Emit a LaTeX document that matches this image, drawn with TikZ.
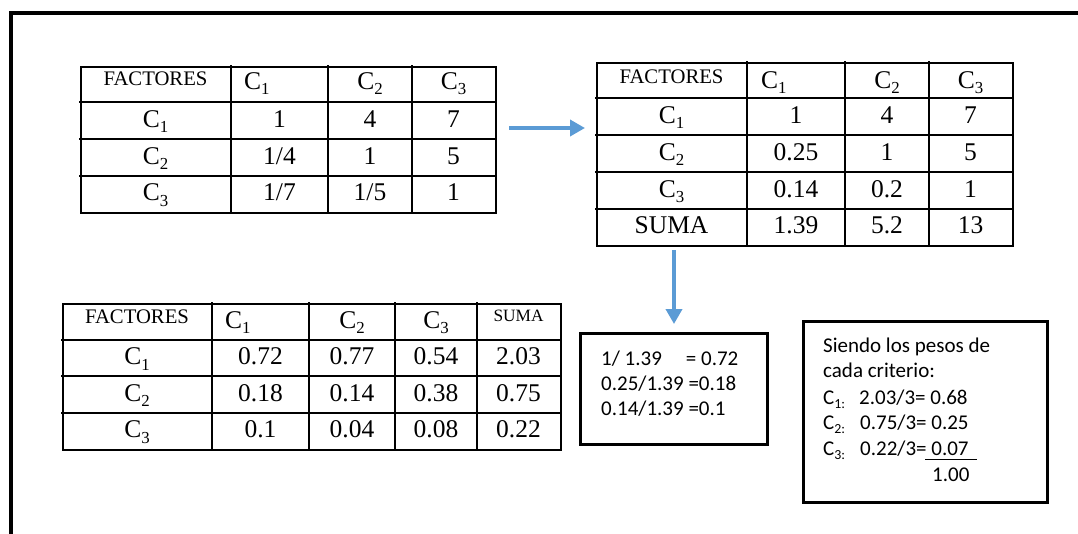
\documentclass[tikz,border=0pt]{standalone}
\usepackage{fontspec}
\usepackage{graphicx}
\setmainfont{Liberation Serif}
\newfontfamily\hdfont{Liberation Serif}
\newfontfamily\bdfont{Liberation Serif}
\newfontfamily\calfont{Carlito}
\usetikzlibrary{arrows.meta}
\definecolor{arrowblue}{HTML}{5B9BD5}
\newcommand\mysub[1]{\raisebox{-0.22em}{\scalebox{0.66}{#1}}}
\tikzset{
  tabline/.style={line width=2pt, line cap=rect},
  boxline/.style={draw, line width=2.6pt, minimum width=0pt, minimum height=0pt, inner sep=0pt, anchor=north west},
  bt/.style={anchor=base, inner sep=0pt, font=\bdfont\fontsize{25.5}{28}\selectfont},
  btw/.style={anchor=base west, inner sep=0pt, font=\bdfont\fontsize{25.5}{28}\selectfont},
  ht/.style={anchor=base, inner sep=0pt, font=\hdfont\fontsize{20.7}{24}\selectfont},
  hs/.style={anchor=base, inner sep=0pt, font=\hdfont\fontsize{17.3}{20}\selectfont},
  ct/.style={anchor=base west, inner sep=0pt, font=\calfont\fontsize{21}{25}\selectfont},
  flow/.style={draw=arrowblue, line width=3.6pt, -{Triangle[length=15pt,width=16pt]}},
}
\begin{document}
\begin{tikzpicture}[x=1pt,y=-1pt]
\useasboundingbox (0,0) rectangle (1078,533);
\fill[white] (0,0) rectangle (1078,533);
% outer frame
\draw[line width=4pt] (10.5,540) -- (10.5,13) -- (1085,13);

% ---------- Table 1 ----------
\node[boxline, line width=2pt, minimum width=415, minimum height=146] (t1) at (80,66) {};
\foreach \x in {231,328,412} \draw[tabline] (\x,66) -- (\x,212);
\foreach \y in {102,139,176} \draw[tabline] (80,\y) -- (495,\y);
\node[ht] (t1h0) at (155.5,85) {FACTORES};
\node[btw] (t1h1) at (244,89) {C\mysub{1}};
\node[bt] (t1h2) at (370,89) {C\mysub{2}};
\node[bt] (t1h3) at (453.5,89) {C\mysub{3}};
\node[bt] (t1a0) at (155.5,127) {C\mysub{1}};
\node[bt] (t1a1) at (279.5,127) {1};
\node[bt] (t1a2) at (370,127) {4};
\node[bt] (t1a3) at (453.5,127) {7};
\node[bt] (t1b0) at (155.5,164) {C\mysub{2}};
\node[bt] (t1b1) at (279.5,164) {1/4};
\node[bt] (t1b2) at (370,164) {1};
\node[bt] (t1b3) at (453.5,164) {5};
\node[bt] (t1c0) at (155.5,200.5) {C\mysub{3}};
\node[bt] (t1c1) at (279.5,200.5) {1/7};
\node[bt] (t1c2) at (370,200.5) {1/5};
\node[bt] (t1c3) at (453.5,200.5) {1};

% ---------- Table 2 ----------
\node[boxline, line width=2pt, minimum width=416, minimum height=183] (t2) at (596,62) {};
\foreach \x in {747,845,929} \draw[tabline] (\x,62) -- (\x,245);
\foreach \y in {98,135,172,209} \draw[tabline] (596,\y) -- (1012,\y);
\node[ht] (t2h0) at (671.5,83) {FACTORES};
\node[btw] (t2h1) at (761,88) {C\mysub{1}};
\node[bt] (t2h2) at (887,88) {C\mysub{2}};
\node[bt] (t2h3) at (970.5,88) {C\mysub{3}};
\node[bt] (t2a0) at (671.5,123) {C\mysub{1}};
\node[bt] (t2a1) at (796,123) {1};
\node[bt] (t2a2) at (887,123) {4};
\node[bt] (t2a3) at (970.5,123) {7};
\node[bt] (t2b0) at (671.5,160) {C\mysub{2}};
\node[bt] (t2b1) at (796,160) {0.25};
\node[bt] (t2b2) at (887,160) {1};
\node[bt] (t2b3) at (970.5,160) {5};
\node[bt] (t2c0) at (671.5,197) {C\mysub{3}};
\node[bt] (t2c1) at (796,197) {0.14};
\node[bt] (t2c2) at (887,197) {0.2};
\node[bt] (t2c3) at (970.5,197) {1};
\node[bt] (t2d0) at (671.5,233.5) {SUMA};
\node[bt] (t2d1) at (796,233.5) {1.39};
\node[bt] (t2d2) at (887,233.5) {5.2};
\node[bt] (t2d3) at (970.5,233.5) {13};

% ---------- Table 3 ----------
\node[boxline, line width=2pt, minimum width=498, minimum height=146] (t3) at (62,303) {};
\foreach \x in {212,309,395,477} \draw[tabline] (\x,303) -- (\x,449);
\foreach \y in {340,376,413} \draw[tabline] (62,\y) -- (560,\y);
\node[ht] (t3h0) at (137,323) {FACTORES};
\node[btw] (t3h1) at (225,328) {C\mysub{1}};
\node[bt] (t3h2) at (352,328) {C\mysub{2}};
\node[bt] (t3h3) at (436,328) {C\mysub{3}};
\node[hs] (t3h4) at (518.5,321) {SUMA};
\node[bt] (t3a0) at (137,364.5) {C\mysub{1}};
\node[bt] (t3a1) at (260.5,364.5) {0.72};
\node[bt] (t3a2) at (352,364.5) {0.77};
\node[bt] (t3a3) at (436,364.5) {0.54};
\node[bt] (t3a4) at (518.5,364.5) {2.03};
\node[bt] (t3b0) at (137,401) {C\mysub{2}};
\node[bt] (t3b1) at (260.5,401) {0.18};
\node[bt] (t3b2) at (352,401) {0.14};
\node[bt] (t3b3) at (436,401) {0.38};
\node[bt] (t3b4) at (518.5,401) {0.75};
\node[bt] (t3c0) at (137,437.5) {C\mysub{3}};
\node[bt] (t3c1) at (260.5,437.5) {0.1};
\node[bt] (t3c2) at (352,437.5) {0.04};
\node[bt] (t3c3) at (436,437.5) {0.08};
\node[bt] (t3c4) at (518.5,437.5) {0.22};

% ---------- Box 3 ----------
\node[boxline, minimum width=187, minimum height=111] (b3) at (579,332) {};
\node[ct] (b3l1) at (601,365) {1/ 1.39\hspace{24pt}= 0.72};
\node[ct] (b3l2) at (601,390.5) {0.25/1.39 =0.18};
\node[ct] (b3l3) at (601,415) {0.14/1.39 =0.1};

% ---------- Box 4 ----------
\node[boxline, minimum width=244, minimum height=181] (b4) at (802,320) {};
\node[ct] (b4l1) at (823,352) {Siendo los pesos de};
\node[ct] (b4l2) at (823,377.5) {cada criterio:};
\node[ct] (b4c1) at (823,404) {C\mysub{1:}};
\node[ct] (b4v1) at (859,404) {2.03/3= 0.68};
\node[ct] (b4c2) at (823,429) {C\mysub{2:}};
\node[ct] (b4v2) at (860,429) {0.75/3= 0.25};
\node[ct] (b4c3) at (823,455) {C\mysub{3:}};
\node[ct] (b4v3) at (860,455) {0.22/3= 0.07};
\node[ct] (b4tot) at (932,481) {1.00};
\draw[line width=1.3pt] (925,459.5) -- (977,459.5);

% ---------- arrows ----------
\coordinate (a1s) at (509,128);
\coordinate (a1e) at (585,128);
\draw[flow] (a1s) -- (a1e);
\coordinate (a2s) at (674,250);
\coordinate (a2e) at (674,324);
\draw[flow] (a2s) -- (a2e);
\end{tikzpicture}
\end{document}
